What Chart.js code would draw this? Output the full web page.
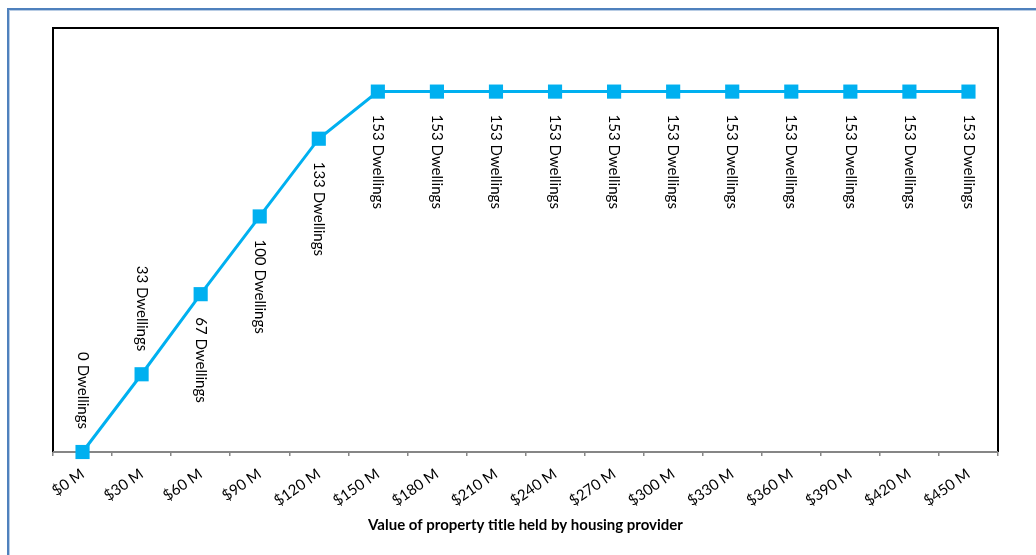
<!DOCTYPE html>
<html>
<head>
<meta charset="utf-8">
<script src="https://cdn.jsdelivr.net/npm/chart.js@4/dist/chart.umd.min.js"></script>
<style>
  html, body { margin: 0; padding: 0; background: #fff; }
  #wrap { position: relative; width: 1036px; height: 555px; }
</style>
</head>
<body>
<div id="wrap"><canvas id="c" width="1036" height="555"></canvas></div>
<script>
const categories = ['$0 M','$30 M','$60 M','$90 M','$120 M','$150 M','$180 M','$210 M','$240 M','$270 M','$300 M','$330 M','$360 M','$390 M','$420 M','$450 M'];
const dwellings = [0, 33, 67, 100, 133, 153, 153, 153, 153, 153, 153, 153, 153, 153, 153, 153];
const labelAbove = [true, true, false, false, false, false, false, false, false, false, false, false, false, false, false, false];
const xTitle = 'Value of property title held by housing provider';
const labelSuffix = ' Dwellings';

const FONT = 'Lato, Carlito, Calibri, "Open Sans", sans-serif';

const frame = {
  id: 'frame',
  beforeDraw(chart) {
    const ctx = chart.ctx;
    ctx.save();
    ctx.fillStyle = '#fff';
    ctx.fillRect(0, 0, chart.width, chart.height);
    ctx.strokeStyle = '#4f81bd';
    ctx.lineWidth = 2;
    ctx.strokeRect(8, 9, 1200, 1200);
    ctx.strokeStyle = '#b8cce4';
    ctx.lineWidth = 1;
    ctx.strokeRect(9.5, 10.5, 1200, 1200);
    ctx.restore();
  },
  beforeDatasetsDraw(chart) {
    const {ctx, chartArea: a} = chart;
    ctx.save();
    ctx.strokeStyle = '#000';
    ctx.lineWidth = 2;
    ctx.beginPath();
    ctx.moveTo(a.left, a.bottom);
    ctx.lineTo(a.left, a.top);
    ctx.lineTo(a.right, a.top);
    ctx.lineTo(a.right, a.bottom);
    ctx.stroke();
    ctx.strokeStyle = '#868686';
    ctx.beginPath();
    ctx.moveTo(a.left, a.bottom);
    ctx.lineTo(a.right, a.bottom);
    ctx.stroke();
    ctx.restore();
  }
};

const dataLabels = {
  id: 'dataLabels',
  afterDatasetsDraw(chart) {
    const ctx = chart.ctx;
    const meta = chart.getDatasetMeta(0);
    ctx.save();
    ctx.font = '15px ' + FONT;
    ctx.fillStyle = '#000';
    ctx.textBaseline = 'middle';
    meta.data.forEach((pt, i) => {
      const txt = dwellings[i] + labelSuffix;
      ctx.save();
      ctx.translate(pt.x, pt.y);
      ctx.rotate(Math.PI / 2);
      if (labelAbove[i]) {
        ctx.textAlign = 'right';
        ctx.fillText(txt, -23, 0);
      } else {
        ctx.textAlign = 'left';
        ctx.fillText(txt, 23, 0);
      }
      ctx.restore();
    });
    ctx.restore();
  }
};

new Chart(document.getElementById('c'), {
  type: 'line',
  data: {
    labels: categories,
    datasets: [{
      data: dwellings,
      borderColor: '#00b0f0',
      backgroundColor: '#00b0f0',
      borderWidth: 3,
      pointStyle: 'rect',
      pointRadius: 10,
      pointBorderWidth: 0,
      pointBackgroundColor: '#00b0f0',
      tension: 0,
      clip: false
    }]
  },
  options: {
    responsive: false,
    animation: false,
    devicePixelRatio: 1,
    layout: { padding: { left: 53, top: 28, right: 38, bottom: 0 } },
    plugins: { legend: { display: false }, tooltip: { enabled: false } },
    scales: {
      y: {
        display: false,
        min: 0,
        max: 180
      },
      x: {
        offset: true,
        grid: {
          offset: true,
          drawOnChartArea: false,
          drawTicks: true,
          tickLength: 4,
          color: '#868686',
          lineWidth: 1.5
        },
        border: { display: false },
        ticks: {
          autoSkip: false,
          maxRotation: 35,
          minRotation: 35,
          color: '#000',
          font: { family: FONT, size: 15 },
          padding: 9
        },
        title: {
          display: true,
          text: xTitle,
          color: '#000',
          font: { family: FONT, size: 15, weight: 'bold' },
          padding: { top: 0, bottom: 21 }
        },
        afterFit(scale) { scale.height = 103; }
      }
    }
  },
  plugins: [frame, dataLabels]
});
</script>
</body>
</html>
